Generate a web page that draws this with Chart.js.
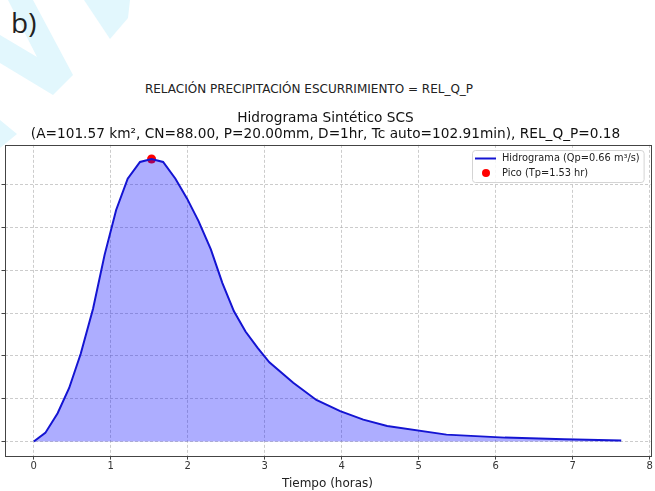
<!DOCTYPE html>
<html>
<head>
<meta charset="utf-8">
<script src="https://cdn.jsdelivr.net/npm/chart.js@4.4.1/dist/chart.umd.min.js"></script>
<style>
    html, body { margin: 0; padding: 0; background: #fff; }
    #wrap { position: relative; width: 655px; height: 491px; overflow: hidden; font-family: "DejaVu Sans", sans-serif; }
    #wm { position: absolute; left: 0; top: 0; }
    #tag { position: absolute; left: 11px; top: 3px; font-family: "Open Sans", sans-serif; font-size: 28px; color: #222; }
    #suptitle { position: absolute; left: 0; width: 618px; top: 82px; text-align: center; font-size: 12px; color: #222; }
    canvas { position: absolute; left: 0; top: 0; }
</style>
</head>
<body>
<div id="wrap">
    <svg id="wm" width="655" height="491">
        <polygon points="8,0 33,0 73,75 53,95 0,63 0,35 37,57" fill="#e2f7fd"/>
        <polygon points="84,0 130,0 128,18 110,39" fill="#e2f7fd"/>
        <polygon points="0,120 17,134 0,148" fill="#e2f7fd"/>
    </svg>
    <div id="tag">b)</div>
    <div id="suptitle">RELACIÓN PRECIPITACIÓN ESCURRIMIENTO = REL_Q_P</div>
    <canvas id="chart" width="655" height="491"></canvas>
</div>
<script>
// Hidrograma sintético SCS
const tiempo = [0, 0.15, 0.31, 0.46, 0.61, 0.77, 0.92, 1.07, 1.22, 1.38, 1.53, 1.68, 1.84, 1.99,
    2.14, 2.30, 2.45, 2.60, 2.75, 2.91, 3.06, 3.37, 3.67, 3.98, 4.28, 4.59, 5.36, 6.12, 6.89, 7.63];
const caudal = [0, 0.020, 0.066, 0.125, 0.205, 0.310, 0.436, 0.541, 0.614, 0.653, 0.660, 0.653, 0.614, 0.568,
    0.515, 0.449, 0.370, 0.304, 0.257, 0.218, 0.185, 0.137, 0.097, 0.071, 0.051, 0.036, 0.016, 0.009, 0.005, 0.002];
const picoT = [1.53];
const picoQ = [0.66];
const xTicks = [0, 1, 2, 3, 4, 5, 6, 7, 8];
const yTicks = [0, 0.1, 0.2, 0.3, 0.4, 0.5, 0.6];

const titleLines = ['Hidrograma Sintético SCS',
    '(A=101.57 km², CN=88.00, P=20.00mm, D=1hr, Tc auto=102.91min), REL_Q_P=0.18'];

const lineColor = 'rgb(20,20,210)';
const fillColor = 'rgba(0,0,255,0.32)';
const gridColor = 'rgba(170,170,170,0.6)';

// frame around the plot area (matplotlib spines)
const frame = {
    id: 'frame',
    afterDatasetsDraw(chart) {
        const a = chart.chartArea, ctx = chart.ctx;
        ctx.save();
        ctx.strokeStyle = '#444';
        ctx.lineWidth = 1;
        ctx.strokeRect(Math.round(a.left) + 0.5, Math.round(a.top) + 0.5,
            Math.round(a.right - a.left), Math.round(a.bottom - a.top));
        ctx.restore();
    }
};

// legend box in upper right corner
const boxLegend = {
    id: 'boxLegend',
    afterDraw(chart) {
        const a = chart.chartArea, ctx = chart.ctx;
        const ds = chart.data.datasets;
        ctx.save();
        ctx.font = '9.8px "DejaVu Sans"';
        const tw = Math.max(...ds.map(d => ctx.measureText(d.label).width));
        const w = tw + 34, h = 32;
        const x = Math.round(a.right - 7 - w), y = Math.round(a.top + 5);
        ctx.fillStyle = 'rgba(255,255,255,0.85)';
        ctx.strokeStyle = '#d4d4d4';
        ctx.lineWidth = 1;
        ctx.beginPath();
        ctx.roundRect(x + 0.5, y + 0.5, w, h, 3);
        ctx.fill();
        ctx.stroke();
        // line sample
        ctx.strokeStyle = ds[0].borderColor;
        ctx.lineWidth = 2;
        ctx.beginPath();
        ctx.moveTo(x + 3, y + 8.5);
        ctx.lineTo(x + 24, y + 8.5);
        ctx.stroke();
        // point sample
        ctx.fillStyle = ds[1].backgroundColor;
        ctx.beginPath();
        ctx.arc(x + 14, y + 23, 4, 0, Math.PI * 2);
        ctx.fill();
        ctx.fillStyle = '#222';
        ctx.textBaseline = 'middle';
        ctx.fillText(ds[0].label, x + 30, y + 8.5);
        ctx.fillText(ds[1].label, x + 30, y + 23);
        ctx.restore();
    }
};

new Chart(document.getElementById('chart').getContext('2d'), {
    type: 'line',
    data: {
        datasets: [{
            label: 'Hidrograma (Qp=0.66 m³/s)',
            data: tiempo.map((t, i) => ({ x: t, y: caudal[i] })),
            borderColor: lineColor,
            backgroundColor: fillColor,
            borderWidth: 2,
            fill: 'origin',
            pointRadius: 0,
            tension: 0
        }, {
            type: 'scatter',
            label: 'Pico (Tp=1.53 hr)',
            data: picoT.map((t, i) => ({ x: t, y: picoQ[i] })),
            backgroundColor: '#ff0000',
            borderColor: '#ff0000',
            pointRadius: 4.5,
            borderWidth: 0
        }]
    },
    options: {
        responsive: false,
        animation: false,
        layout: { padding: { top: 110, right: 4, bottom: 0, left: 0 } },
        plugins: {
            legend: { display: false },
            tooltip: { enabled: false },
            title: {
                display: true,
                text: titleLines,
                color: '#111',
                font: { family: 'DejaVu Sans', size: 13.7, weight: 'normal', lineHeight: 1.2 },
                padding: { top: 0, bottom: 2 }
            }
        },
        scales: {
            x: {
                type: 'linear',
                min: -0.38,
                max: 8.01,
                afterBuildTicks: s => { s.ticks = xTicks.map(v => ({ value: v })); },
                ticks: { color: '#333', font: { family: 'DejaVu Sans', size: 10 }, padding: 1, maxRotation: 0 },
                grid: { color: gridColor, tickLength: 4, tickColor: '#444', tickBorderDash: [] },
                border: { display: false, dash: [3, 2] },
                title: {
                    display: true,
                    text: 'Tiempo (horas)',
                    color: '#222',
                    font: { family: 'DejaVu Sans', size: 12 },
                    padding: { top: 3, bottom: 0 }
                }
            },
            y: {
                min: -0.033,
                max: 0.693,
                afterBuildTicks: s => { s.ticks = yTicks.map(v => ({ value: v })); },
                ticks: { display: false },
                grid: { color: gridColor, tickLength: 3, tickColor: '#444', tickBorderDash: [] },
                border: { display: false, dash: [3, 2] }
            }
        }
    },
    plugins: [frame, boxLegend]
});
</script>
</body>
</html>
